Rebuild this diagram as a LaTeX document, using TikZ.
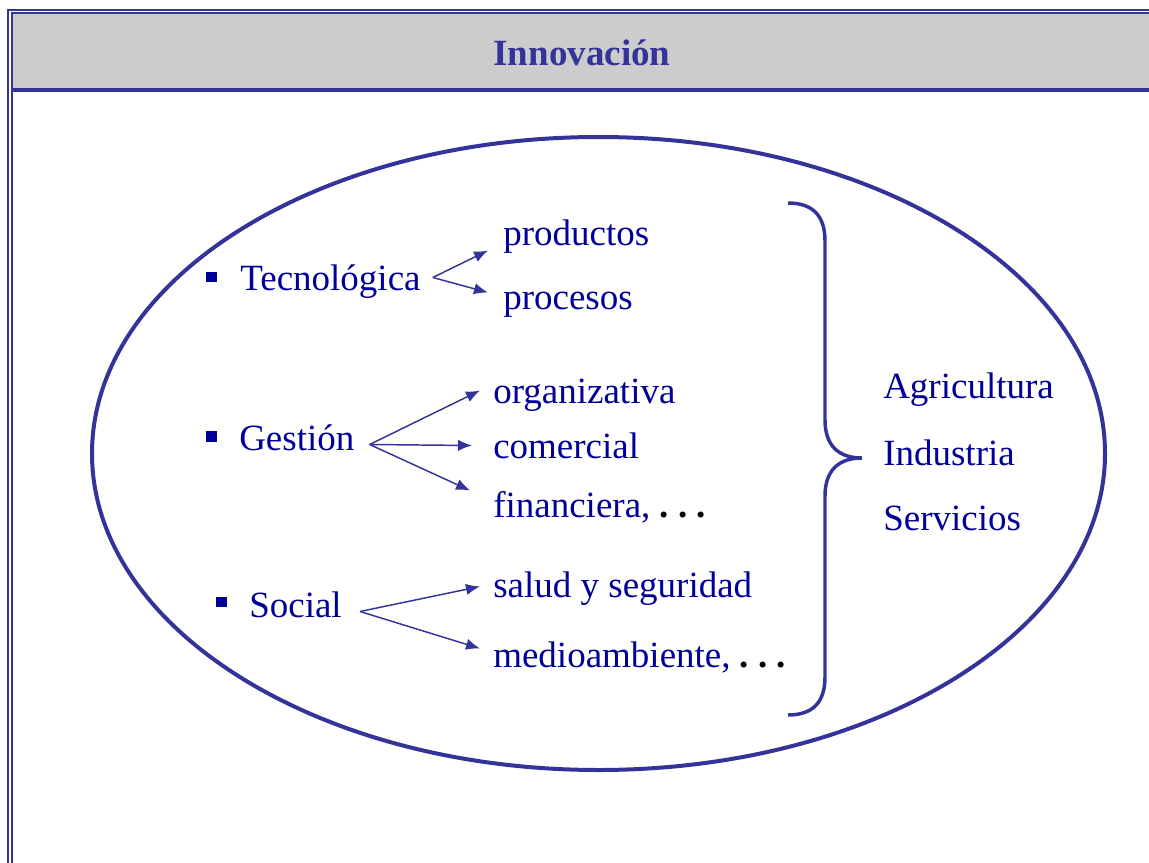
\documentclass[tikz,border=0pt]{standalone}
\usepackage{fontspec}
\setmainfont{Liberation Serif}
\usepackage{tikz}
\usetikzlibrary{arrows.meta, positioning, calc}
\definecolor{textnavy}{HTML}{000099}
\definecolor{linkblue}{HTML}{333399}
\definecolor{headgray}{HTML}{CCCCCC}

\begin{document}
\begin{tikzpicture}[x=0.75pt, y=-0.75pt, font=\fontsize{27.75}{33}\selectfont]
    \tikzstyle{item} = [anchor=base west, inner sep=0pt, text height=18.75pt, text depth=6pt, text=textnavy]
    \tikzstyle{bulletsq} = [rectangle, fill=textnavy, minimum size=7.8pt, inner sep=0pt]
    \tikzstyle{branch} = [-{Latex[length=10.5pt, width=8.5pt]}, line width=1.1pt, linkblue]
    \tikzstyle{frameline} = [line width=2pt, linkblue]

    \useasboundingbox (0,0) rectangle (1149,863);
    \fill [headgray] (12,13) rectangle (1149,90);
    \draw [frameline] (8,863) -- (8,10) -- (1149,10);
    \draw [frameline] (12,863) -- (12,13) -- (1149,13);
    \draw [line width=2.4pt, linkblue] (12,90) -- (1149,90);
    \node (title) [anchor=base, text=linkblue, font=\fontsize{27.75}{33}\selectfont\bfseries] at (582,66) {Innovación};

    \draw [line width=3pt, linkblue] (598.5,453.5) ellipse [x radius=506.5, y radius=316.5];

    \node (b1) [bulletsq] at (211.5,277) {};
    \node (b2) [bulletsq] at (211.5,436.5) {};
    \node (b3) [bulletsq] at (221.5,602) {};

    \node (tec) [item] at (240,290) {Tecnológica};
    \node (prod) [item] at (503,245) {productos};
    \node (proc) [item] at (503,309) {procesos};

    \node (ges) [item] at (239,450) {Gestión};
    \node (org) [item] at (493,403) {organizativa};
    \node (com) [item] at (493,458) {comercial};
    \node (fin) [item] at (493,517) {financiera,\ \textcolor{black}{\bfseries .\ .\ .}};

    \node (soc) [item] at (249,617) {Social};
    \node (sal) [item] at (493,597) {salud y seguridad};
    \node (med) [item] at (493,667) {medioambiente,\ \textcolor{black}{\bfseries .\ .\ .}};

    \node (agri) [item] at (883,398) {Agricultura};
    \node (ind) [item] at (883,465) {Industria};
    \node (serv) [item] at (883,530) {Servicios};

    \draw [branch] ($(tec.east)+(12,-4)$) -- ($(prod.west)+(-15,14)$);
    \draw [branch] ($(tec.east)+(12,-4)$) -- ($(proc.west)+(-15,-8)$);
    \draw [branch] ($(ges.east)+(15,3)$) -- ($(org.west)+(-13,-4)$);
    \draw [branch] ($(ges.east)+(15,3)$) -- ($(com.west)+(-21,-4)$);
    \draw [branch] ($(ges.east)+(15,3)$) -- ($(fin.west)+(-23,-18)$);
    \draw [branch] ($(soc.east)+(18,3)$) -- ($(sal.west)+(-13,-2)$);
    \draw [branch] ($(soc.east)+(18,3)$) -- ($(med.west)+(-13,-10)$);

    \draw [line width=2.6pt, linkblue]
      (788,203) .. controls (813,203) and (825,216) .. (825,241) -- (825,420)
      .. controls (825,445) and (838,458) .. (862,458)
      .. controls (838,458) and (825,471) .. (825,496) -- (825,677)
      .. controls (825,702) and (813,715) .. (788,715);
\end{tikzpicture}
\end{document}
